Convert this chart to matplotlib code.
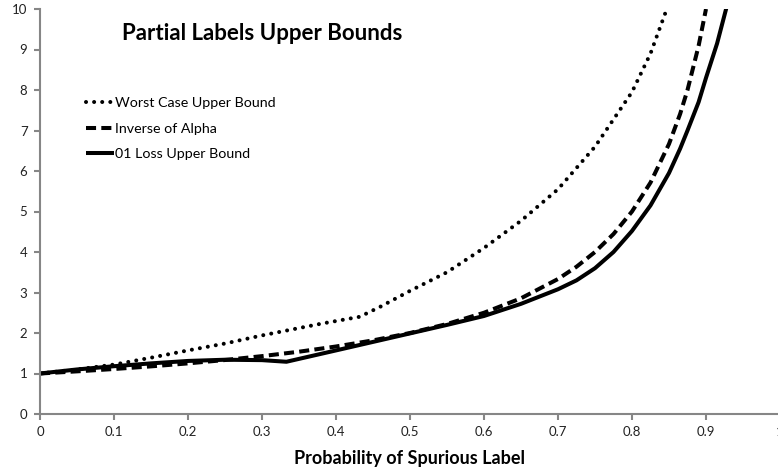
import matplotlib
matplotlib.use('Agg')
from matplotlib import pyplot as plt

plt.rcParams['font.family'] = ['Lato', 'DejaVu Sans']

# values
x_worst = [0, 0.05, 0.1, 0.15, 0.2, 0.25, 0.3, 0.333, 0.38, 0.432, 0.46, 0.5, 0.55,
           0.6, 0.65, 0.7, 0.75, 0.8, 0.825, 0.85]
y_worst = [1.0, 1.1, 1.22, 1.39, 1.57, 1.74, 1.94, 2.06, 2.23, 2.40, 2.65, 3.04, 3.5,
           4.1, 4.77, 5.55, 6.6, 7.95, 8.9, 10.15]

x_alpha = [0, 0.05, 0.1, 0.15, 0.2, 0.25, 0.3, 0.35, 0.4, 0.45, 0.5, 0.55, 0.6, 0.65,
           0.7, 0.725, 0.75, 0.775, 0.8, 0.825, 0.85, 0.865, 0.875, 0.89, 0.9]
y_alpha = [1.0, 1.053, 1.111, 1.176, 1.25, 1.333, 1.429, 1.538, 1.667, 1.818, 2.0,
           2.222, 2.5, 2.857, 3.333, 3.636, 4.0, 4.444, 5.0, 5.714, 6.667, 7.407,
           8.0, 9.09, 10.0]

x_loss = [0, 0.05, 0.1, 0.15, 0.2, 0.25, 0.3, 0.333, 0.4, 0.45, 0.5, 0.55, 0.6, 0.65,
          0.675, 0.7, 0.725, 0.75, 0.775, 0.8, 0.825, 0.85, 0.865, 0.875, 0.89, 0.9,
          0.915, 0.93]
y_loss = [1.0, 1.1, 1.18, 1.25, 1.31, 1.34, 1.33, 1.29, 1.57, 1.78, 1.99, 2.2, 2.42,
          2.72, 2.9, 3.08, 3.3, 3.6, 4.0, 4.52, 5.15, 5.95, 6.55, 7.0, 7.7, 8.3,
          9.15, 10.2]

x_ticks = [0, 0.1, 0.2, 0.3, 0.4, 0.5, 0.6, 0.7, 0.8, 0.9, 1]
x_ticklabels = ['0', '0.1', '0.2', '0.3', '0.4', '0.5', '0.6', '0.7', '0.8', '0.9', '1']
y_ticks = list(range(0, 11))

fig = plt.figure(figsize=(7.78, 4.72), dpi=100)
ax = fig.add_axes([40 / 778, 1 - 414 / 472, 740 / 778, 405 / 472])

lw = 2.9
ax.plot(x_worst, y_worst, color='black', lw=lw, linestyle=(0, (0.01, 2.0)),
        dash_capstyle='round', label='Worst Case Upper Bound')
ax.plot(x_alpha, y_alpha, color='black', lw=lw, linestyle=(0, (2.5, 1.3)),
        dash_capstyle='butt', label='Inverse of Alpha')
ax.plot(x_loss, y_loss, color='black', lw=lw, solid_capstyle='butt',
        label='01 Loss Upper Bound')

ax.set_xlim(0, 1)
ax.set_ylim(0, 10)
ax.set_xticks(x_ticks)
ax.set_xticklabels(x_ticklabels)
ax.set_yticks(y_ticks)

gray = '#868686'
for s in ['top', 'right']:
    ax.spines[s].set_visible(False)
for s in ['left', 'bottom']:
    ax.spines[s].set_color(gray)
    ax.spines[s].set_linewidth(1.5)
ax.tick_params(axis='both', direction='out', length=4, width=1.5, color=gray,
               labelsize=9.5, labelcolor='#222222', pad=5)

ax.set_xlabel('Probability of Spurious Label', fontsize=13, fontweight='bold', labelpad=8)

fig.text(262 / 778, 1 - 33 / 472, 'Partial Labels Upper Bounds', fontsize=16,
         fontweight='bold', ha='center', va='center')

leg = ax.legend(loc='center left', bbox_to_anchor=(0.055, (414 - 128.5) / 405),
                frameon=False, fontsize=10.3, handlelength=1.9, handletextpad=0.1,
                labelspacing=0.95, borderaxespad=0)

fig.savefig('out.png', dpi=100)
